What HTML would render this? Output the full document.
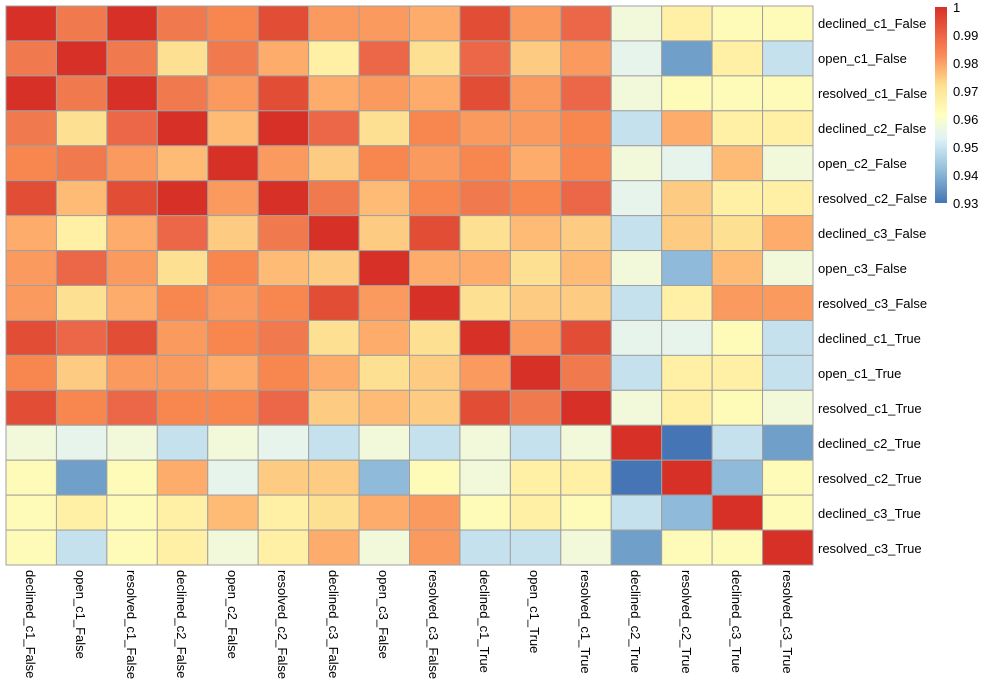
<!DOCTYPE html>
<html><head><meta charset="utf-8"><style>
body{margin:0;background:#fff;}
svg text{font-family:"Liberation Sans",sans-serif;font-size:13px;fill:#000;}
</style></head><body>
<svg id="s" width="984" height="687" xmlns="http://www.w3.org/2000/svg">
<defs><linearGradient id="cb" x1="0" y1="1" x2="0" y2="0">
<stop offset="0" stop-color="#4575b4"/><stop offset="0.17" stop-color="#91bfdb"/><stop offset="0.33" stop-color="#e0f3f8"/><stop offset="0.45" stop-color="#ffffbf"/><stop offset="0.6" stop-color="#fee090"/><stop offset="0.75" stop-color="#fc8d59"/><stop offset="1" stop-color="#d73027"/></linearGradient></defs>
<g id="cells"></g>
<rect x="935" y="7" width="12" height="196" fill="url(#cb)"/>
<text x="953" y="12">1</text>
<text x="953" y="40">0.99</text>
<text x="953" y="68">0.98</text>
<text x="953" y="96">0.97</text>
<text x="953" y="124">0.96</text>
<text x="953" y="152">0.95</text>
<text x="953" y="180">0.94</text>
<text x="953" y="208">0.93</text>
<g>
<text x="818" y="28">declined_c1_False</text>
<text x="818" y="63">open_c1_False</text>
<text x="818" y="98">resolved_c1_False</text>
<text x="818" y="133">declined_c2_False</text>
<text x="818" y="168">open_c2_False</text>
<text x="818" y="203">resolved_c2_False</text>
<text x="818" y="238">declined_c3_False</text>
<text x="818" y="273">open_c3_False</text>
<text x="818" y="308">resolved_c3_False</text>
<text x="818" y="343">declined_c1_True</text>
<text x="818" y="378">open_c1_True</text>
<text x="818" y="413">resolved_c1_True</text>
<text x="818" y="448">declined_c2_True</text>
<text x="818" y="483">resolved_c2_True</text>
<text x="818" y="518">declined_c3_True</text>
<text x="818" y="553">resolved_c3_True</text>
</g>
<g>
<text transform="translate(26,570) rotate(90)">declined_c1_False</text>
<text transform="translate(76,570) rotate(90)">open_c1_False</text>
<text transform="translate(127,570) rotate(90)">resolved_c1_False</text>
<text transform="translate(177,570) rotate(90)">declined_c2_False</text>
<text transform="translate(228,570) rotate(90)">open_c2_False</text>
<text transform="translate(278,570) rotate(90)">resolved_c2_False</text>
<text transform="translate(329,570) rotate(90)">declined_c3_False</text>
<text transform="translate(379,570) rotate(90)">open_c3_False</text>
<text transform="translate(429,570) rotate(90)">resolved_c3_False</text>
<text transform="translate(480,570) rotate(90)">declined_c1_True</text>
<text transform="translate(530,570) rotate(90)">open_c1_True</text>
<text transform="translate(581,570) rotate(90)">resolved_c1_True</text>
<text transform="translate(631,570) rotate(90)">declined_c2_True</text>
<text transform="translate(682,570) rotate(90)">resolved_c2_True</text>
<text transform="translate(732,570) rotate(90)">declined_c3_True</text>
<text transform="translate(783,570) rotate(90)">resolved_c3_True</text>
</g>
</svg>
<script>
var P={A:"#d73027",B:"#e24d35",C:"#ec6748",D:"#f07a4e",E:"#f8864f",F:"#fb9a5f",G:"#fdac6b",H:"#fdbb76",I:"#fdcc82",J:"#fee093",K:"#fff0a6",L:"#fefbb8",M:"#f2f9db",N:"#e6f4ec",O:"#c6e1ee",P:"#a5cde3",Q:"#8fbad9",R:"#70a0ca",S:"#4575b4"};
var rows=["ADADEBFFGBFCMKLL","DADJDGKCJCIFNRKO","ADADFBGFGBFCMLLL","DJCAHACJEFFEOGKK","EDFHAFIEFEGEMNHM","BHBAFADHEDECNIKK","GKGCIDAIBJHIOIJG","FCFJEHIAGGJHMQHM","FJGEFEBFAJIIOKFF","BCBFEDJGJAFBNNLO","EIFFGEGJIFADOKKO","BECEECIHIBDAMKLM","MNMOMNOMOMOMASOR","LRLGNIIQLMKKSAQL","LKLKHKJGFLKLOQAL","LOLKMKGMFOOMRLLA"];
var g=document.getElementById("cells"),h="";
var x0=6,y0=6,cw=(813-6)/16,ch=(565-6)/16;
for(var r=0;r<16;r++)for(var c=0;c<16;c++){
h+='<rect x="'+(x0+c*cw)+'" y="'+(y0+r*ch)+'" width="'+cw+'" height="'+ch+'" fill="'+P[rows[r][c]]+'" stroke="#a0a0a0" stroke-width="1"/>';}
g.innerHTML=h;
</script>
</body></html>
